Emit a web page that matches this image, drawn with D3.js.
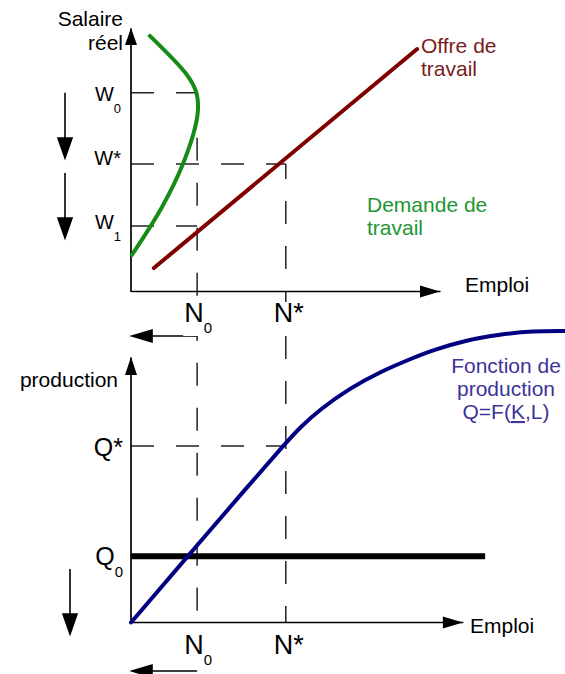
<!DOCTYPE html>
<html>
<head>
<meta charset="utf-8">
<script src="https://cdn.jsdelivr.net/npm/d3@7"></script>
<style>
  html, body { margin: 0; padding: 0; background: #fff; }
  svg { display: block; font-family: "Liberation Sans", Arial, sans-serif; }
</style>
</head>
<body>
<svg id="chart" width="565" height="674"></svg>
<script>
// ---------- DATA ----------
// Labour market (top panel): employment N vs real wage W
const demandN = [6.1, 18.1, 21.0, 21.7, 20.9, 16.8, 10.0, 0.3];
const demandW = [97, 82.2, 76, 70, 63, 48.4, 32, 13.9];
const supplyN = [7.4, 92.6];
const supplyW = [8.9, 92.0];

// Production function (bottom panel): employment N vs production Q
const prodN = [0, 18.4, 38.5, 50, 54.7, 61.2, 70.9, 80.6, 90.3, 97.7, 108.7, 119.4, 130.1, 140.5];
const prodQ = [0, 25, 52.2, 67.5, 73.5, 80.3, 88.3, 94.4, 99.2, 102.6, 106.4, 108.5, 109.8, 109.8];

// Reference levels / tick labels
const wageLabels = ["W0", "W*", "W1"];
const wageValues = [75.4, 48.4, 24.9];
const empLabels = ["N0", "N*"];
const empValues = [21.4, 50.1];
const prodLabels = ["Q0", "Q*"];
const prodValues = [25.0, 66.5];
const q0LineEnd = 114.6;   // employment where the constrained-output line stops
const bottomAxisMax = 107.4;

const supplyText = ["Offre de", "travail"];
const demandText = ["Demande de", "travail"];
const prodText = ["Fonction de", "production", "Q=F(K,L)"];

// ---------- SCALES ----------
const svg = d3.select("#chart");
const x = d3.scaleLinear().domain([0, 100]).range([131, 440]);
const yW = d3.scaleLinear().domain([0, 100]).range([291.5, 28]);
const yQ = d3.scaleLinear().domain([0, 100]).range([622.5, 357]);
const xBottom = x.copy().domain([0, bottomAxisMax]).range([x(0), x(bottomAxisMax)]);

const col = {
  green: "#168c16", red: "#800000", navy: "#000080",
  greenText: "#1e9632", redText: "#7a1c1c", blueText: "#3d3399",
  dash: "#222"
};

function arrowHead(g, tipX, tipY, dir, len, half) {
  let pts;
  if (dir === "up") pts = [[tipX, tipY], [tipX - half, tipY + len], [tipX + half, tipY + len]];
  else if (dir === "down") pts = [[tipX, tipY], [tipX - half, tipY - len], [tipX + half, tipY - len]];
  else if (dir === "right") pts = [[tipX, tipY], [tipX - len, tipY - half], [tipX - len, tipY + half]];
  else pts = [[tipX, tipY], [tipX + len, tipY - half], [tipX + len, tipY + half]];
  g.append("path").attr("d", "M" + pts.join("L") + "Z").attr("fill", "#000");
}

// ---------- DASHED GUIDES ----------
const guides = svg.append("g").attr("fill", "none").attr("stroke", col.dash)
  .attr("stroke-width", 1.5).attr("stroke-dasharray", "23,22");
const iW0 = 0, iWs = 1, iW1 = 2, iN0 = 0, iNs = 1, iQ0 = 0, iQs = 1;
guides.append("line").attr("x1", x(0)).attr("x2", x(empValues[iN0]))
  .attr("y1", yW(wageValues[iW0])).attr("y2", yW(wageValues[iW0]));
guides.append("line").attr("x1", x(0)).attr("x2", x(empValues[iNs]))
  .attr("y1", yW(wageValues[iWs])).attr("y2", yW(wageValues[iWs]));
guides.append("line").attr("x1", x(0)).attr("x2", x(empValues[iN0]))
  .attr("y1", yW(wageValues[iW1])).attr("y2", yW(wageValues[iW1]));
guides.append("line").attr("x1", x(0)).attr("x2", x(empValues[iNs]))
  .attr("y1", yQ(prodValues[iQs])).attr("y2", yQ(prodValues[iQs]));
guides.append("line").attr("x1", x(empValues[iN0])).attr("x2", x(empValues[iN0]))
  .attr("y1", yW(wageValues[iW0])).attr("y2", yQ(0));
guides.append("line").attr("x1", x(empValues[iNs])).attr("x2", x(empValues[iNs]))
  .attr("y1", yW(wageValues[iWs])).attr("y2", yQ(0)).attr("stroke-dashoffset", 8);

// ---------- AXES ----------
const axes = svg.append("g");
axes.append("g").attr("transform", `translate(0,${yW(0) - 0.5})`)
  .call(d3.axisBottom(x).tickValues([]).tickSizeOuter(0));
axes.append("g").attr("transform", `translate(${x(0) - 0.5},0)`)
  .call(d3.axisLeft(yW).tickValues([]).tickSizeOuter(0));
axes.append("g").attr("transform", `translate(0,${yQ(0) - 0.5})`)
  .call(d3.axisBottom(xBottom).tickValues([]).tickSizeOuter(0));
axes.append("g").attr("transform", `translate(${x(0) - 0.5},0)`)
  .call(d3.axisLeft(yQ).tickValues([]).tickSizeOuter(0));
axes.selectAll(".domain").attr("stroke", "#000").attr("stroke-width", 1.7);
arrowHead(axes, x(0), yW(100), "up", 17, 6);
arrowHead(axes, x(100), yW(0), "right", 20, 6);
arrowHead(axes, x(0), yQ(100), "up", 18, 6);
arrowHead(axes, xBottom(bottomAxisMax), yQ(0), "right", 20, 6);

// ---------- CURVES ----------
const lineW = d3.line().x(d => x(d[0])).y(d => yW(d[1]));
const lineQ = d3.line().x(d => x(d[0])).y(d => yQ(d[1]));

svg.append("path").datum(demandN.map((n, i) => [n, demandW[i]]))
  .attr("d", lineW.curve(d3.curveCatmullRom.alpha(0.5)))
  .attr("fill", "none").attr("stroke", col.green).attr("stroke-width", 4)
  .attr("stroke-linecap", "round");
svg.append("path").datum(supplyN.map((n, i) => [n, supplyW[i]]))
  .attr("d", d3.line().x(d => x(d[0])).y(d => yW(d[1])))
  .attr("fill", "none").attr("stroke", col.red).attr("stroke-width", 4)
  .attr("stroke-linecap", "round");

svg.append("line").attr("x1", x(0)).attr("x2", x(q0LineEnd))
  .attr("y1", yQ(prodValues[iQ0])).attr("y2", yQ(prodValues[iQ0]))
  .attr("stroke", "#000").attr("stroke-width", 6);
svg.append("path").datum(prodN.map((n, i) => [n, prodQ[i]]))
  .attr("d", lineQ.curve(d3.curveBasis))
  .attr("fill", "none").attr("stroke", col.navy).attr("stroke-width", 4)
  .attr("stroke-linecap", "round");

// ---------- LEFT-SIDE ARROWS ----------
const arr = svg.append("g").attr("stroke", "#000").attr("stroke-width", 1.6);
function vArrow(xp, y1, y2) {
  arr.append("line").attr("x1", xp).attr("x2", xp).attr("y1", y1).attr("y2", y2 - 15);
  arrowHead(arr, xp, y2, "down", 20, 7);
}
function hArrow(yp, x1, x2) {
  arr.append("line").attr("x1", x1).attr("x2", x2 + 15).attr("y1", yp).attr("y2", yp);
  arrowHead(arr, x2, yp, "left", 20, 6);
}
vArrow(65, yW(wageValues[iW0]), 158);
vArrow(65, 173, 238);
vArrow(70, 569, 634);

// ---------- LABELS ----------
const font = 21;
const txt = svg.append("g").attr("font-size", font).attr("fill", "#000");

function subLabel(g, label, xp, yp, anchor, size, subSize, subDy, bg) {
  const main = label[0], rest = label.slice(1);
  const t = g.append("text").attr("x", xp).attr("y", yp).attr("text-anchor", anchor)
    .attr("font-size", size);
  t.append("tspan").text(main);
  if (rest === "*") t.append("tspan").text("*");
  else t.append("tspan").attr("font-size", subSize).attr("dy", subDy).text(rest);
  if (bg) {
    const b = t.node().getBBox();
    g.insert("rect", () => t.node()).attr("x", b.x - 1).attr("y", b.y + 4)
      .attr("width", b.width + 2).attr("height", b.height - 4).attr("fill", "#fff");
  }
  return t;
}

const wageDy = { "W0": 8, "W*": 1, "W1": 3 };
wageLabels.forEach((l, i) => subLabel(txt, l, 121, yW(wageValues[i]) + wageDy[l], "end", 20, 13, 12, false));
const prodDy = { "Q0": 9, "Q*": 10 };
prodLabels.forEach((l, i) => subLabel(txt, l, 123, yQ(prodValues[i]) + prodDy[l], "end", 25, 15, 12, false));
const nDx = { "N0": 1, "N*": 3 };
empLabels.forEach((l, i) => subLabel(txt, l, x(empValues[i]) + nDx[l], 322, "middle", 27, 15, 11, true));
empLabels.forEach((l, i) => subLabel(txt, l, x(empValues[i]) + nDx[l], 654, "middle", 27, 15, 11, false));

hArrow(336, x(empValues[iN0]), 132);
hArrow(671, x(empValues[iN0]), 132);

txt.append("text").attr("x", 123).attr("y", 26).attr("text-anchor", "end").text("Salaire");
txt.append("text").attr("x", 123).attr("y", 50).attr("text-anchor", "end").text("réel");
txt.append("text").attr("x", 118).attr("y", 387).attr("text-anchor", "end").text("production");
txt.append("text").attr("x", 465).attr("y", 292).text("Emploi");
txt.append("text").attr("x", 470).attr("y", 633).text("Emploi");

supplyText.forEach((s, i) => txt.append("text").attr("x", 421).attr("y", 53 + i * 23)
  .attr("fill", col.redText).text(s));
demandText.forEach((s, i) => txt.append("text").attr("x", 367).attr("y", 212 + i * 23)
  .attr("fill", col.greenText).text(s));
prodText.forEach((s, i) => {
  const t = txt.append("text").attr("x", 506).attr("y", 373 + i * 23)
    .attr("text-anchor", "middle").attr("fill", col.blueText);
  if (s.includes("(K")) {
    const k = s.indexOf("K");
    t.append("tspan").text(s.slice(0, k));
    t.append("tspan").style("text-decoration", "underline").text("K");
    t.append("tspan").text(s.slice(k + 1));
  } else t.text(s);
});
</script>
</body>
</html>
